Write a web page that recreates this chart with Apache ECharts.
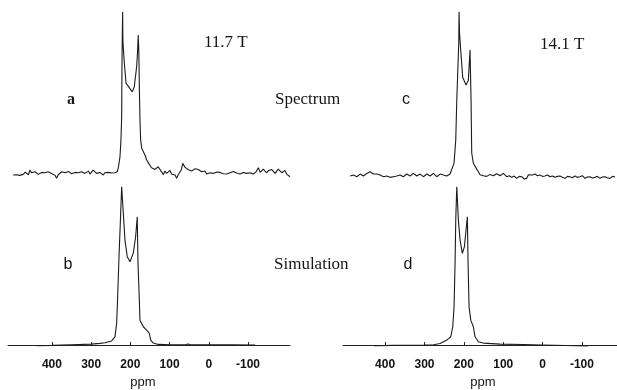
<!DOCTYPE html>
<html>
<head>
<meta charset="utf-8">
<script src="https://cdn.jsdelivr.net/npm/echarts@6/dist/echarts.min.js"></script>
<style>
html,body{margin:0;padding:0;background:#fff;}
#chart{width:617px;height:390px;}
</style>
</head>
<body>
<div id="chart"></div>
<script>
// ---- tick labels ----
const ppmTicks = [400, 300, 200, 100, 0, -100];

// ---- a: spectrum at 11.7 T ----
const specA_ppm = [499,494,490,486,482,477,473,468,464,460,456,452,448,443,439,435,431,426,422,418,414,410,405,401,397,392,388,384,380,375,371,366,362,358,354,350,346,341,337,333,329,324,320,316,312,307,303,299,295,290,286,282,278,273,269,265,261,256,252,248,244,239,235,
  233.4,231,229,226.5,224,222.2,221.4,220.5,219.7,219.3,219,216,211,205,201,195.2,190,184,181.4,180,178.5,177,175.5,173.8,171,167,
  162,158.5,154,150,146,141.6,137,133,129,124.5,120,116,112,107.4,103,99,95,90.5,86,82,78,73.5,70,66.6,61,56.4,52,48,44,39.5,35,31,27,22.5,18,14,10,5.4,1,-3,-7,-11.5,-16,-20,-24,-28.6,-33,-37,-41,-45.6,-50,-54,-58,-62.5,-67,-71,-75,
  -79.6,-84,-88,-92,-96.6,-101,-105,-109,-113.5,-117,-120,-123,-126.3,-131,-135,-139,-143.4,-147,-150,-153,-156,-160,-164.5,-169,-173,-177,-181.6,-186,-190,-194,-198.7,-203,-207];
const specA_int = [-1.2,-0.6,-1.0,-1.6,-1.4,-0.4,-0.8,0.6,-0.2,-1.0,1.8,0.2,-0.6,0.8,0.4,-0.8,-1.2,0.4,1.6,0.2,-0.2,0.8,1.0,-0.2,-0.6,-1.4,-3.2,-1.0,-0.2,0.8,1.6,0.2,-0.2,1.0,0.4,-0.4,-0.6,0.4,1.0,0.2,-0.2,0.8,1.6,-0.2,0.4,1.2,-0.6,0.4,1.8,0.6,-0.2,0.8,0.4,-0.6,-1.2,0.2,-0.6,0.4,-0.6,0.0,-0.6,0.2,-0.2,
  0.8,3.0,5.9,9.9,20,34,64,85,97.5,85,80,68.5,54.3,52.5,52.3,49.2,52.3,64.4,74.5,83.6,74.5,50.3,32,20,15,14,
  10.5,7.9,6.2,5.2,3.2,4.2,2.2,1.8,3.8,3.2,0.6,-1.0,1.2,-0.2,0.8,1.6,-0.6,0.4,-1.2,-3.2,-1.0,-0.2,2.0,5.9,3.6,3.2,2.0,2.4,1.2,1.8,2.6,1.6,2.2,3.2,0.8,0.4,1.2,-0.6,0.6,0.2,-0.6,-0.2,0.8,0.6,-0.2,0.4,0.8,-0.4,0.4,-0.6,0.6,0.2,-0.4,1.0,0.4,0.0,0.6,
  -0.6,0.2,0.4,-0.4,-0.2,0.6,0.2,-0.2,-0.6,0.4,0.6,1.4,3.2,0.4,1.0,2.4,1.8,0.2,0.8,1.6,0.4,2.2,1.6,-0.2,0.4,2.4,1.8,0.2,1.0,1.6,-0.6,-1.0,-2.2];

// ---- b: simulation at 11.7 T ----
const simB_ppm = [438,400,350,300,277.6,264.8,247.7,239.3,235,232.4,229,224.7,222.2,218,213.8,207.9,201,192.6,186.6,182.4,180.6,178,175.5,167,158.5,151.8,148.2,141.6,128.8,99,60,53,46,0,-60,-118];
const simB_int = [-0.4,-0.2,0.2,0.6,1.0,1.4,2.5,5.0,13.1,29.3,53.5,79.8,95.9,80,63.6,53.5,50.5,55.7,65.6,77.7,49.7,33.3,15.1,11.1,9.1,7.3,3.0,1.2,0.4,0.2,0.2,0.6,0.2,0.2,0.1,0];

// ---- c: spectrum at 14.1 T ----
const specC_ppm = [488.8,484.6,480.4,476,471.9,467.7,463.5,459.2,455,450.7,446.5,442.2,438,433.8,429.7,425.3,421,416.8,412.7,408.5,404.3,400,395.7,391.5,387.3,383,379,374.6,370.3,366,362,357.8,353.6,349.3,345,340.8,336.5,332.2,328,323.8,319.5,315.2,311,307,302.8,298.4,294,289.9,285.8,281.6,277.4,273,268.8,264.6,260.4,256.2,252,247.7,243.4,239.2,235,
  230.7,224.9,220.6,218,213,212.2,211,208,203,194.4,188.6,184.3,183.5,181.7,180,175.9,171.6,167.3,163,158.8,154.6,150.4,146.2,142,137.8,133.5,129.2,125,120.8,116.6,112.4,108,103.8,99.6,95.4,91,84.7,78.4,72,65.7,59.4,53,46.7,40.4,36,32,25.6,19.3,13,6.6,0.3,-6,-12.4,-18.8,-25,-31.5,-37.7,-44,-50.4,-56.8,-63,-69.5,-75.8,-82,-88.4,-94.8,-101,-107.6,-114,-120,-126.5,-133,-139.3,-145.7,-152,-158.4,-164.7,-171,-177.4,-183.7];
const specC_int = [-1.8,-0.8,-1.2,-1.8,-2.2,-1.0,-0.6,-1.4,-1.8,-0.8,-0.2,0.4,0.8,-0.2,-0.6,-1.2,-0.6,-1.0,-1.2,-1.8,-2.2,-1.6,-1.8,-2.4,-2.6,-1.8,-2.2,-1.4,-1.8,-1.0,-1.2,-1.8,-2.2,-1.2,-0.6,-1.4,-1.8,-0.8,-0.2,-1.2,-1.8,-1.0,-0.6,-1.6,-2.2,-1.2,-0.6,-1.2,-1.8,-0.8,-0.2,-1.4,-2.2,-1.4,-0.6,-1.0,-1.2,-1.6,-1.8,-1.0,-0.6,
  0.6,6.0,20,44,78.7,97.7,85,74.6,58,53.3,56.3,74.6,75,44,12,6,5.9,2.4,0.8,-1.0,-2.2,-1.6,-1.2,-2.0,-1.8,-0.8,-0.6,-1.6,-1.2,-0.4,-0.2,-1.6,-1.2,-0.2,0.2,-2.2,-1.6,-2.6,-1.8,-3.2,-2.0,-2.2,-3.6,-3.2,-1.0,-0.2,-1.2,-0.6,-1.6,-1.2,-2.0,-1.8,-1.2,-2.2,-1.8,-2.6,-2.0,-1.8,-2.6,-3.2,-2.0,-2.2,-2.8,-1.8,-2.6,-2.2,-1.6,-3.2,-2.4,-2.2,-3.0,-2.6,-2.0,-3.2,-2.4,-2.2,-2.8,-3.2,-2.0,-2.2];

// ---- d: simulation at 14.1 T ----
const simD_ppm = [428,380,300,277,260.4,243.4,233.3,228.2,224.9,222.3,220.6,218,213.9,209.6,203.8,198.7,194.4,191.1,189.3,186.8,182.5,175.9,171.6,163.2,150.5,108,50,0,-60,-115];
const simD_int = [-0.4,-0.2,0,0.2,1.0,3.0,5.0,11.1,23.2,49.7,75.7,95.9,75.7,63.6,55.5,59.5,69.7,77.7,49.7,23.2,15.1,11.1,5.0,2.0,1.2,0.6,0.3,0,-0.3,-0.6];

function zip(xs, ys) { return xs.map((x, i) => [x, ys[i]]); }

const chart = echarts.init(document.getElementById('chart'), null, {renderer: 'canvas'});

const lineColor = '#1c1c1c';
const serif = 'Liberation Serif, Times New Roman, serif';
const sans = 'Liberation Sans, Arial, sans-serif';

function visibleX(grid, min, max) {
  return {
    gridIndex: grid, type: 'value', min: min, max: max, inverse: true,
    axisLine: {show: true, lineStyle: {color: '#222', width: 1}},
    axisTick: {show: true, inside: true, length: 3, customValues: ppmTicks, lineStyle: {color: '#222'}},
    axisLabel: {customValues: ppmTicks, margin: 7, fontSize: 12, fontWeight: 'bold', color: '#111', fontFamily: sans},
    splitLine: {show: false}
  };
}
function hiddenX(grid, min, max) {
  return {gridIndex: grid, type: 'value', min: min, max: max, inverse: true, show: false, splitLine: {show: false}};
}
function yAx(grid) {
  return {gridIndex: grid, type: 'value', min: -4.2, max: 100, show: false, splitLine: {show: false}};
}
function ser(idx, data) {
  return {
    type: 'line', xAxisIndex: idx, yAxisIndex: idx, data: data,
    symbol: 'none', showSymbol: false, clip: false, animation: false,
    lineStyle: {color: lineColor, width: 1.1}
  };
}
function txt(x, y, s, font, align) {
  return {type: 'text', x: x, y: y, silent: true,
    style: {text: s, font: font, fill: '#151515', textAlign: align || 'left', textVerticalAlign: 'middle'}};
}

const option = {
  backgroundColor: '#fff',
  animation: false,
  grid: [
    {left: 8, width: 282, top: 8, height: 172, outerBoundsMode: 'none'},
    {left: 8, width: 282, top: 180, height: 172, outerBoundsMode: 'none'},
    {left: 343, width: 274, top: 8, height: 172, outerBoundsMode: 'none'},
    {left: 343, width: 274, top: 180, height: 172, outerBoundsMode: 'none'}
  ],
  xAxis: [
    hiddenX(0, -207, 512),
    visibleX(1, -207, 512),
    hiddenX(2, -189, 507),
    visibleX(3, -189, 507)
  ],
  yAxis: [yAx(0), yAx(1), yAx(2), yAx(3)],
  series: [
    ser(0, zip(specA_ppm, specA_int)),
    ser(1, zip(simB_ppm, simB_int)),
    ser(2, zip(specC_ppm, specC_int)),
    ser(3, zip(simD_ppm, simD_int))
  ],
  graphic: [
    txt(204, 43, '11.7 T', '17px ' + serif),
    txt(540, 45, '14.1 T', '17px ' + serif),
    txt(71, 100, 'a', 'bold 16px ' + serif, 'center'),
    txt(275, 100, 'Spectrum', '17px ' + serif),
    txt(406, 100, 'c', '16px ' + sans, 'center'),
    txt(68, 265, 'b', '16px ' + sans, 'center'),
    txt(274, 265, 'Simulation', '17px ' + serif),
    txt(408, 265, 'd', '16px ' + sans, 'center'),
    txt(143, 382, 'ppm', '13px ' + sans, 'center'),
    txt(483, 382, 'ppm', '13px ' + sans, 'center')
  ]
};
chart.setOption(option);
</script>
</body>
</html>
